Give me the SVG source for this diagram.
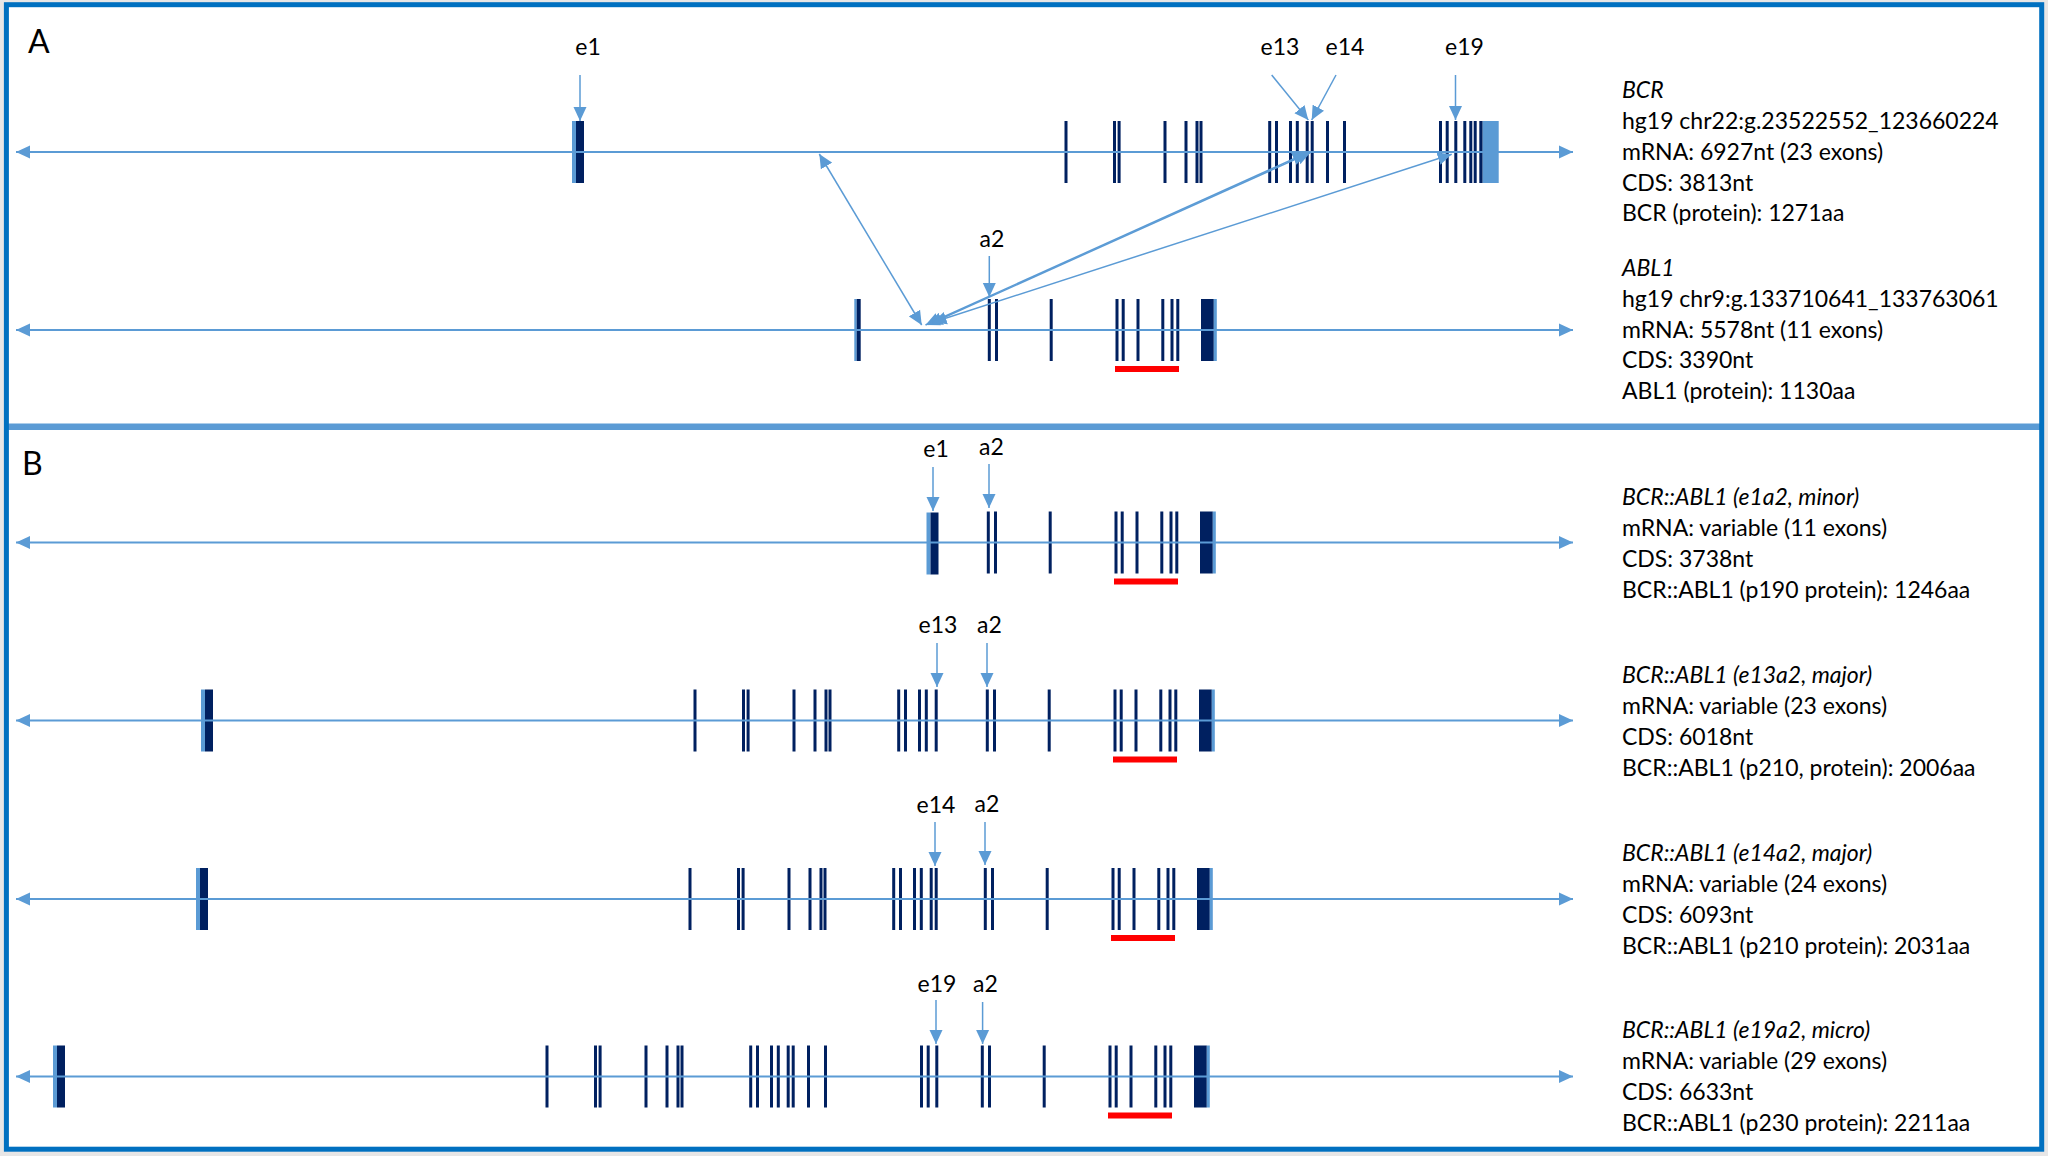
<svg xmlns="http://www.w3.org/2000/svg" xmlns:xlink="http://www.w3.org/1999/xlink" width="2048" height="1156" viewBox="0 0 2048 1156">
<style>
.t{font-family:Lato,"Liberation Sans",sans-serif;font-size:23px;fill:#000}
.it{font-style:italic}
.lab{font-family:Lato,"Liberation Sans",sans-serif;font-size:23px;fill:#000;text-anchor:middle}
.pl{font-family:Lato,"Liberation Sans",sans-serif;font-size:32px;fill:#000}
.ex{fill:#002060}
.lt{fill:#5B9BD5}
.red{fill:#FF0000}
.bb{stroke:#5B9BD5;stroke-width:2;fill:none;marker-start:url(#ah);marker-end:url(#ah)}
.ar{stroke:#5B9BD5;stroke-width:1.5;fill:none;marker-end:url(#ah)}
.dar{stroke:#5B9BD5;stroke-width:1.5;fill:none;marker-start:url(#ah);marker-end:url(#ah)}
</style>
<defs>
<marker id="ah" markerUnits="userSpaceOnUse" markerWidth="14" markerHeight="14" viewBox="0 0 14 14" refX="14" refY="7" orient="auto-start-reverse"><path d="M0,0.5 L14,7 L0,13.5 z" fill="#5B9BD5"/></marker>
<g id="bcr-e1"><rect class="lt" x="572" y="-31" width="4" height="62"/><rect class="ex" x="576" y="-31" width="8" height="62"/></g>
<g id="bcr-e2-13" class="ex">
<rect x="1064.5" y="-31" width="3" height="62"/>
<rect x="1113" y="-31" width="3" height="62"/>
<rect x="1117.6" y="-31" width="3" height="62"/>
<rect x="1163.5" y="-31" width="3" height="62"/>
<rect x="1184.5" y="-31" width="3" height="62"/>
<rect x="1195.5" y="-31" width="3" height="62"/>
<rect x="1199.5" y="-31" width="3" height="62"/>
<rect x="1268.2" y="-31" width="3" height="62"/>
<rect x="1275" y="-31" width="3" height="62"/>
<rect x="1289" y="-31" width="3" height="62"/>
<rect x="1295.8" y="-31" width="3" height="62"/>
<rect x="1305.7" y="-31" width="3" height="62"/>
</g>
<g id="bcr-e14" class="ex"><rect x="1310.7" y="-31" width="3" height="62"/></g>
<g id="bcr-e15-19" class="ex">
<rect x="1326" y="-31" width="3" height="62"/>
<rect x="1343" y="-31" width="3" height="62"/>
<rect x="1439" y="-31" width="3" height="62"/>
<rect x="1445.7" y="-31" width="3" height="62"/>
<rect x="1454.3" y="-31" width="3" height="62"/>
</g>
<g id="bcr-e20-23">
<rect class="ex" x="1463.3" y="-31" width="3" height="62"/>
<rect class="ex" x="1469.3" y="-31" width="3" height="62"/>
<rect class="ex" x="1473.7" y="-31" width="3" height="62"/>
<rect class="ex" x="1479.3" y="-31" width="3.4" height="62"/>
<rect class="lt" x="1482.7" y="-31" width="16" height="62"/>
</g>
<g id="abl-tail">
<rect class="ex" x="987.8" y="-31" width="3" height="62"/>
<rect class="ex" x="995" y="-31" width="3" height="62"/>
<rect class="ex" x="1049.7" y="-31" width="3" height="62"/>
<rect class="ex" x="1115.5" y="-31" width="3" height="62"/>
<rect class="ex" x="1121.7" y="-31" width="3" height="62"/>
<rect class="ex" x="1136.5" y="-31" width="3" height="62"/>
<rect class="ex" x="1161.3" y="-31" width="3" height="62"/>
<rect class="ex" x="1170.5" y="-31" width="3" height="62"/>
<rect class="ex" x="1176.3" y="-31" width="3" height="62"/>
<rect class="ex" x="1201" y="-31" width="12.8" height="62"/>
<rect class="lt" x="1213.8" y="-31" width="3" height="62"/>
<rect class="red" x="1115" y="36" width="64" height="6"/>
</g>
</defs>

<rect x="0" y="0" width="2048" height="1156" fill="#E7E6E6"/>
<rect x="6.4" y="4.7" width="2035.3" height="1144.5" fill="#FFFFFF"/>
<rect x="8" y="423.5" width="2032" height="6.5" fill="#5B9BD5"/>
<rect x="6.4" y="4.7" width="2035.3" height="1144.5" fill="none" stroke="#0070C0" stroke-width="5"/>

<g id="panel-A-label"><text class="pl" x="28" y="53">A</text></g>
<g id="panel-B-label"><text class="pl" x="22" y="475">B</text></g>

<g id="BCR-gene">
<use href="#bcr-e1" transform="translate(0,152)"/>
<use href="#bcr-e2-13" transform="translate(0,152)"/>
<use href="#bcr-e14" transform="translate(0,152)"/>
<use href="#bcr-e15-19" transform="translate(0,152)"/>
<use href="#bcr-e20-23" transform="translate(0,152)"/>
<line class="bb" x1="16" y1="152" x2="1573" y2="152"/>
</g>

<g id="ABL1-gene">
<rect class="lt" x="854.3" y="299" width="2.4" height="62"/>
<rect class="ex" x="856.7" y="299" width="4" height="62"/>
<use href="#abl-tail" transform="translate(0,330)"/>
<line class="bb" x1="16" y1="330" x2="1573" y2="330"/>
</g>

<g id="B-e1a2">
<use href="#bcr-e1" transform="translate(354.5,543.5)"/>
<use href="#abl-tail" transform="translate(-1,542.5)"/>
<line class="bb" x1="16" y1="542.5" x2="1573" y2="542.5"/>
</g>

<g id="B-e13a2">
<use href="#bcr-e1" transform="translate(-371,720.5)"/>
<use href="#bcr-e2-13" transform="translate(-371,720.5)"/>
<use href="#abl-tail" transform="translate(-2,720.5)"/>
<line class="bb" x1="16" y1="720.5" x2="1573" y2="720.5"/>
</g>

<g id="B-e14a2">
<use href="#bcr-e1" transform="translate(-376,899)"/>
<use href="#bcr-e2-13" transform="translate(-376,899)"/>
<use href="#bcr-e14" transform="translate(-376,899)"/>
<use href="#abl-tail" transform="translate(-4,899)"/>
<line class="bb" x1="16" y1="899" x2="1573" y2="899"/>
</g>

<g id="B-e19a2">
<use href="#bcr-e1" transform="translate(-519,1076.5)"/>
<use href="#bcr-e2-13" transform="translate(-519,1076.5)"/>
<use href="#bcr-e14" transform="translate(-519,1076.5)"/>
<use href="#bcr-e15-19" transform="translate(-519,1076.5)"/>
<use href="#abl-tail" transform="translate(-7,1076.5)"/>
<line class="bb" x1="16" y1="1076.5" x2="1573" y2="1076.5"/>
</g>

<g id="exon-labels">
<text class="lab" x="588" y="55">e1</text>
<text class="lab" x="1280" y="55">e13</text>
<text class="lab" x="1345" y="55">e14</text>
<text class="lab" x="1464.5" y="55">e19</text>
<text class="lab" x="992" y="247">a2</text>
<text class="lab" x="936" y="457">e1</text>
<text class="lab" x="991.5" y="455">a2</text>
<text class="lab" x="938" y="633">e13</text>
<text class="lab" x="989.5" y="633">a2</text>
<text class="lab" x="936" y="813">e14</text>
<text class="lab" x="987" y="812">a2</text>
<text class="lab" x="937" y="992">e19</text>
<text class="lab" x="985.5" y="992">a2</text>
</g>

<g id="connectors">
<line class="ar" x1="580" y1="75" x2="580" y2="121"/>
<line class="ar" x1="1271.7" y1="75" x2="1308.3" y2="120"/>
<line class="ar" x1="1336" y1="75" x2="1311.7" y2="120"/>
<line class="ar" x1="1455.5" y1="75" x2="1455.5" y2="120"/>
<line class="ar" x1="989.3" y1="256" x2="989.3" y2="297"/>
<line class="dar" x1="819.3" y1="154" x2="921.7" y2="325"/>
<line class="dar" x1="1306.5" y1="153" x2="925.5" y2="325"/>
<line class="dar" x1="1310.5" y1="152.5" x2="928.5" y2="324.5"/>
<line class="dar" x1="1451.7" y1="154.3" x2="932.5" y2="322.5"/>
<line class="ar" x1="933" y1="467" x2="933" y2="511"/>
<line class="ar" x1="989" y1="464" x2="989" y2="508"/>
<line class="ar" x1="937" y1="643" x2="937" y2="687"/>
<line class="ar" x1="987" y1="643" x2="987" y2="687"/>
<line class="ar" x1="935" y1="822" x2="935" y2="866"/>
<line class="ar" x1="985" y1="822" x2="985" y2="865"/>
<line class="ar" x1="936" y1="1000" x2="936" y2="1044"/>
<line class="ar" x1="982.6" y1="1002" x2="982.6" y2="1044"/>
</g>

<g id="BCR-info">
<text class="t it" x="1622" y="98">BCR</text>
<text class="t" x="1622" y="129">hg19 chr22:g.23522552_123660224</text>
<text class="t" x="1622" y="160">mRNA: 6927nt (23 exons)</text>
<text class="t" x="1622" y="190.5">CDS: 3813nt</text>
<text class="t" x="1622" y="221">BCR (protein): 1271aa</text>
</g>
<g id="ABL1-info">
<text class="t it" x="1622" y="276">ABL1</text>
<text class="t" x="1622" y="307">hg19 chr9:g.133710641_133763061</text>
<text class="t" x="1622" y="337.5">mRNA: 5578nt (11 exons)</text>
<text class="t" x="1622" y="368">CDS: 3390nt</text>
<text class="t" x="1622" y="399">ABL1 (protein): 1130aa</text>
</g>
<g id="e1a2-info">
<text class="t it" x="1622" y="505">BCR::ABL1 (e1a2, minor)</text>
<text class="t" x="1622" y="536">mRNA: variable (11 exons)</text>
<text class="t" x="1622" y="566.5">CDS: 3738nt</text>
<text class="t" x="1622" y="597.5">BCR::ABL1 (p190 protein): 1246aa</text>
</g>
<g id="e13a2-info">
<text class="t it" x="1622" y="683">BCR::ABL1 (e13a2, major)</text>
<text class="t" x="1622" y="714">mRNA: variable (23 exons)</text>
<text class="t" x="1622" y="744.5">CDS: 6018nt</text>
<text class="t" x="1622" y="775.5">BCR::ABL1 (p210, protein): 2006aa</text>
</g>
<g id="e14a2-info">
<text class="t it" x="1622" y="861">BCR::ABL1 (e14a2, major)</text>
<text class="t" x="1622" y="892">mRNA: variable (24 exons)</text>
<text class="t" x="1622" y="922.5">CDS: 6093nt</text>
<text class="t" x="1622" y="953.5">BCR::ABL1 (p210 protein): 2031aa</text>
</g>
<g id="e19a2-info">
<text class="t it" x="1622" y="1038">BCR::ABL1 (e19a2, micro)</text>
<text class="t" x="1622" y="1069">mRNA: variable (29 exons)</text>
<text class="t" x="1622" y="1099.5">CDS: 6633nt</text>
<text class="t" x="1622" y="1130.5">BCR::ABL1 (p230 protein): 2211aa</text>
</g>
</svg>
